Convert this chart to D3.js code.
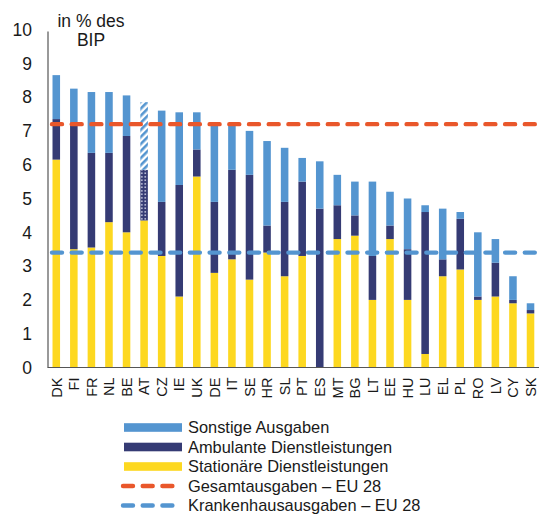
<!DOCTYPE html>
<html><head><meta charset="utf-8">
<script src="https://cdn.jsdelivr.net/npm/d3@7"></script>
<style>body{margin:0;background:#fff}svg{display:block}text{font-family:"Liberation Sans",Arial,sans-serif;fill:#1a1a1a}</style>
</head><body>
<script>
const countries = ["DK","FI","FR","NL","BE","AT","CZ","IE","UK","DE","IT","SE","HR","SL","PT","ES","MT","BG","LT","EE","HU","LU","EL","PL","RO","LV","CY","SK"];
const stationaer = [6.15,3.5,3.55,4.3,4.0,4.35,3.3,2.1,5.65,2.8,3.2,2.6,3.4,2.7,3.3,0,3.8,3.9,2.0,3.8,2.0,0.4,2.7,2.9,2.0,2.1,1.9,1.6];
const ambulant   = [1.2,3.75,2.8,2.05,2.85,1.5,1.6,3.3,0.8,2.1,2.65,3.1,0.8,2.2,2.2,4.7,1.0,0.6,1.3,0.4,1.5,4.2,0.5,1.5,0.1,1.0,0.1,0.1];
const sonstige   = [1.3,1.0,1.8,1.8,1.2,2.0,2.7,2.15,1.1,2.3,1.35,1.3,2.5,1.6,0.7,1.4,0.9,1.0,2.2,1.0,1.5,0.2,1.5,0.2,1.9,0.7,0.7,0.2];
const gesamtEU = 7.2;
const krankenhausEU = 3.4;
const yTicks = [0,1,2,3,4,5,6,7,8,9,10];
const seriesNames = ["Sonstige Ausgaben","Ambulante Dienstleistungen","Stationäre Dienstleistungen"];
const lineNames = ["Gesamtausgaben – EU 28","Krankenhausausgaben – EU 28"];
const hatched = ["AT"];

const W=539,H=515;
const colors = {son:"#5495d0", amb:"#353b74", sta:"#fdd820", red:"#e9572b", blue:"#5495d0"};
const svg = d3.select("body").append("svg").attr("width",W).attr("height",H);

const defs = svg.append("defs");
const p1 = defs.append("pattern").attr("id","hatchSon").attr("patternUnits","userSpaceOnUse")
  .attr("width",5).attr("height",5).attr("patternTransform","rotate(45)");
p1.append("rect").attr("width",5).attr("height",5).attr("fill","#ffffff");
p1.append("rect").attr("width",2.6).attr("height",5).attr("fill",colors.son);
const p2 = defs.append("pattern").attr("id","dotAmb").attr("patternUnits","userSpaceOnUse")
  .attr("width",3.5).attr("height",3.5);
p2.append("rect").attr("width",3.5).attr("height",3.5).attr("fill",colors.amb);
p2.append("rect").attr("x",1).attr("y",1).attr("width",1.6).attr("height",1.6).attr("fill","#c8cbe0");

const x = d3.scaleBand().domain(countries).range([47.5,539.3]).paddingInner(0.57).paddingOuter(0.285);
const y = d3.scaleLinear().domain([0,10]).range([367.5,29.5]);

const data = countries.map((c,i)=>({c, sta:stationaer[i], amb:ambulant[i], son:sonstige[i]}));
const stack = d3.stack().keys(["sta","amb","son"])(data);

const g = svg.append("g");
stack.forEach(layer=>{
  const key = layer.key;
  g.append("g").selectAll("rect").data(layer).join("rect")
    .attr("x",d=>x(d.data.c)).attr("width",x.bandwidth())
    .attr("y",d=>y(d[1])).attr("height",d=>Math.max(0,y(d[0])-y(d[1])))
    .attr("fill",d=>{
      if(hatched.includes(d.data.c)){
        if(key==="son") return "url(#hatchSon)";
        if(key==="amb") return "url(#dotAmb)";
      }
      return colors[key];
    });
});

// axes
svg.append("line").attr("x1",48).attr("x2",48).attr("y1",31.5).attr("y2",367.5).attr("stroke","#555").attr("stroke-width",1.2);
svg.append("line").attr("x1",47.5).attr("x2",539).attr("y1",367.5).attr("y2",367.5).attr("stroke","#555").attr("stroke-width",1.2);

svg.append("g").selectAll("text").data(yTicks).join("text")
  .attr("x",32).attr("y",d=>y(d)).attr("dy","0.36em").attr("text-anchor","end")
  .style("font-size","17.5px").text(d=>d);

svg.append("text").attr("x",91).attr("y",27).attr("text-anchor","middle").style("font-size","17.5px").text("in % des");
svg.append("text").attr("x",91).attr("y",46).attr("text-anchor","middle").style("font-size","17.5px").text("BIP");

// x labels
svg.append("g").selectAll("text").data(countries).join("text")
  .attr("transform",d=>`translate(${x(d)+x.bandwidth()/2},377.5) rotate(-90)`)
  .attr("text-anchor","end").attr("dy","0.36em").style("font-size","14.5px").text(d=>d);

// reference lines
svg.append("line").attr("x1",52).attr("x2",539).attr("y1",y(gesamtEU)).attr("y2",y(gesamtEU))
  .attr("stroke",colors.red).attr("stroke-width",4.4).attr("stroke-dasharray","10,9.7").attr("stroke-linecap","round");
svg.append("line").attr("x1",52).attr("x2",539).attr("y1",y(krankenhausEU)).attr("y2",y(krankenhausEU))
  .attr("stroke",colors.blue).attr("stroke-width",4.4).attr("stroke-dasharray","10,9.7").attr("stroke-linecap","round");

// legend
const leg = svg.append("g");
const rowY = [427.5,447,466.5,486,505.5];
const swCols=[colors.son,colors.amb,colors.sta];
seriesNames.forEach((n,i)=>{
  leg.append("rect").attr("x",124).attr("y",rowY[i]-4.3).attr("width",58).attr("height",8.6).attr("fill",swCols[i]);
  leg.append("text").attr("x",188).attr("y",rowY[i]).attr("dy","0.36em").style("font-size","16.4px").text(n);
});
lineNames.forEach((n,j)=>{
  const i=j+3;
  leg.append("line").attr("x1",123).attr("x2",174).attr("y1",rowY[i]).attr("y2",rowY[i])
    .attr("stroke",j===0?colors.red:colors.blue).attr("stroke-width",4.4).attr("stroke-dasharray","10,9.7").attr("stroke-linecap","round");
  leg.append("text").attr("x",188).attr("y",rowY[i]).attr("dy","0.36em").style("font-size","16.4px").text(n);
});
</script>
</body></html>
